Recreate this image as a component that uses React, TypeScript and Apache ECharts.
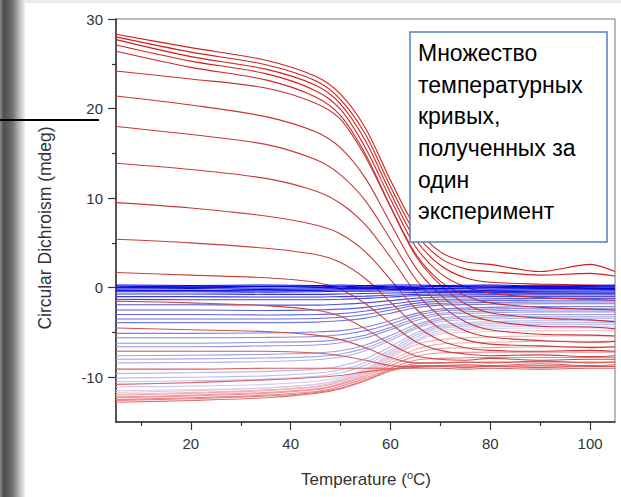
import React, { useEffect, useRef } from "react";
import * as echarts from "echarts";

// ---- data ----
const TEMPS_RED = [5, 20, 35, 45, 50, 55, 60, 65, 70, 75, 80, 90, 100, 105];
const redCurves = [
  [28.3, 26.8, 25.4, 23.6, 21.6, 17.8, 12.0, 6.8, 4.0, 2.9, 2.6, 1.8, 2.6, 1.8],
  [28.0, 26.3, 24.9, 23.1, 21.0, 17.1, 11.3, 6.1, 3.3, 2.1, 1.8, 1.4, 1.6, 1.3],
  [27.7, 25.8, 24.4, 22.6, 20.5, 16.4, 10.6, 5.4, 2.5, 1.1, 0.6, 0.4, 0.3, 0.2],
  [27.1, 25.3, 23.9, 22.0, 19.9, 15.6, 9.9, 4.6, 1.6, 0.1, -0.6, -1.1, -1.3, -1.4],
  [26.4, 24.6, 23.2, 21.3, 19.2, 14.9, 9.1, 3.8, 0.7, -0.9, -1.7, -2.2, -2.4, -2.5],
  [24.2, 23.3, 22.3, 20.6, 18.8, 14.6, 9.0, 3.6, 0.3, -1.8, -2.8, -3.4, -3.6, -3.8],
  [21.4, 20.4, 19.1, 17.4, 15.6, 12.2, 7.2, 2.3, -0.8, -2.8, -3.7, -4.3, -4.4, -4.6],
  [18.0, 17.1, 16.0, 14.3, 12.6, 9.7, 5.4, 1.0, -1.9, -3.8, -4.7, -5.2, -5.3, -5.4],
  [13.9, 13.2, 12.2, 10.8, 9.4, 7.0, 3.4, -0.5, -3.2, -4.8, -5.5, -5.9, -6.1, -6.0],
  [9.5, 8.9, 8.0, 7.0, 6.0, 4.0, 0.9, -2.3, -4.6, -5.8, -6.3, -6.5, -6.7, -6.6],
  [5.4, 5.0, 4.4, 3.7, 2.8, 1.0, -1.6, -4.2, -5.9, -6.7, -7.0, -7.1, -7.0, -7.1],
  [1.7, 1.4, 1.1, 0.6, -0.2, -1.8, -4.0, -6.0, -7.0, -7.4, -7.6, -7.5, -7.7, -7.6],
  [-1.5, -1.7, -2.0, -2.5, -3.2, -4.6, -6.3, -7.6, -8.0, -8.1, -7.9, -8.1, -8.0, -8.0],
  [-4.5, -4.7, -4.9, -5.3, -5.8, -6.7, -7.8, -8.4, -8.4, -8.3, -8.4, -8.2, -8.4, -8.3],
  [-7.1, -7.1, -7.1, -7.3, -7.6, -8.1, -8.7, -8.8, -8.7, -8.6, -8.7, -8.5, -8.7, -8.6],
  [-9.1, -9.1, -9.0, -9.0, -9.0, -9.0, -9.0, -8.9, -8.8, -8.9, -8.8, -8.9, -8.8, -8.8],
  [-10.8, -10.6, -10.3, -10.0, -9.8, -9.4, -9.1, -9.0, -9.0, -9.1, -9.0, -9.1, -9.0, -9.0],
];

const TEMPS_BLUE = [5, 20, 35, 45, 50, 55, 60, 65, 70, 80, 90, 105];
const darkBlueCurves = [
  [0.3, 0.25, 0.3, 0.25, 0.3, 0.25, 0.3, 0.3, 0.25, 0.3, 0.2, 0.3],
  [0.15, 0.1, 0.15, 0.1, 0.15, 0.1, 0.15, 0.1, 0.15, 0.1, 0.15, 0.1],
  [0.0, 0.05, -0.05, 0.0, 0.05, 0.0, 0.05, 0.0, -0.05, 0.0, 0.0, 0.05],
  [-0.15, -0.1, -0.2, -0.15, -0.1, -0.1, -0.05, -0.1, -0.1, -0.15, -0.1, -0.1],
  [-0.3, -0.3, -0.35, -0.3, -0.25, -0.25, -0.2, -0.2, -0.25, -0.3, -0.25, -0.2],
  [-0.45, -0.45, -0.5, -0.45, -0.4, -0.4, -0.35, -0.35, -0.4, -0.45, -0.4, -0.35],
];
const blueCurves = [
  [-0.7, -0.7, -0.75, -0.75, -0.7, -0.65, -0.6, -0.55, -0.5, -0.55, -0.5, -0.5],
  [-1.0, -1.0, -1.05, -1.05, -1.0, -0.95, -0.85, -0.75, -0.7, -0.7, -0.65, -0.65],
  [-1.3, -1.35, -1.35, -1.35, -1.3, -1.2, -1.05, -0.9, -0.85, -0.8, -0.8, -0.8],
  [-1.9, -1.9, -1.95, -1.95, -1.85, -1.7, -1.45, -1.2, -1.05, -1.0, -1.0, -1.0],
  [-2.5, -2.5, -2.55, -2.5, -2.4, -2.2, -1.85, -1.5, -1.3, -1.25, -1.2, -1.2],
  [-3.0, -3.0, -3.05, -3.0, -2.9, -2.6, -2.2, -1.75, -1.5, -1.45, -1.4, -1.4],
  [-3.5, -3.5, -3.5, -3.45, -3.3, -3.0, -2.5, -2.0, -1.75, -1.65, -1.6, -1.6],
  [-3.9, -3.9, -3.9, -3.85, -3.7, -3.4, -2.85, -2.25, -1.95, -1.85, -1.8, -1.8],
  [-5.1, -5.1, -5.05, -4.95, -4.8, -4.4, -3.7, -2.9, -2.4, -2.2, -2.1, -2.1],
  [-5.6, -5.6, -5.55, -5.45, -5.25, -4.8, -4.05, -3.15, -2.6, -2.4, -2.3, -2.3],
  [-6.2, -6.2, -6.1, -6.0, -5.8, -5.3, -4.45, -3.45, -2.85, -2.6, -2.5, -2.5],
  [-6.6, -6.6, -6.5, -6.4, -6.15, -5.6, -4.7, -3.7, -3.05, -2.8, -2.7, -2.7],
  [-7.6, -7.55, -7.45, -7.3, -7.05, -6.4, -5.35, -4.15, -3.4, -3.1, -3.0, -3.0],
  [-8.0, -7.95, -7.85, -7.7, -7.4, -6.75, -5.65, -4.4, -3.6, -3.3, -3.2, -3.2],
  [-8.4, -8.35, -8.25, -8.05, -7.75, -7.05, -5.9, -4.6, -3.8, -3.5, -3.4, -3.4],
  [-9.6, -9.5, -9.35, -9.1, -8.75, -7.95, -6.6, -5.1, -4.15, -3.8, -3.7, -3.7],
  [-10.1, -10.0, -9.85, -9.55, -9.2, -8.35, -6.95, -5.35, -4.35, -4.0, -3.9, -3.9],
  [-10.5, -10.4, -10.2, -9.9, -9.5, -8.65, -7.2, -5.6, -4.55, -4.2, -4.1, -4.1],
  [-11.1, -11.0, -10.8, -10.45, -10.0, -9.1, -7.6, -5.9, -4.8, -4.4, -4.3, -4.3],
  [-11.5, -11.4, -11.2, -10.8, -10.3, -9.4, -7.85, -6.1, -5.0, -4.6, -4.5, -4.5],
];
const pinkCurves = [
  [-11.7, -11.5, -11.2, -10.8, -10.2, -9.1, -7.4, -5.9, -5.2, -4.9, -4.8, -4.8],
  [-11.9, -11.7, -11.4, -11.0, -10.4, -9.3, -7.8, -6.4, -5.8, -5.5, -5.4, -5.4],
  [-12.0, -11.8, -11.5, -11.1, -10.5, -9.5, -8.1, -6.9, -6.3, -6.1, -6.0, -6.0],
  [-12.2, -12.0, -11.7, -11.3, -10.7, -9.7, -8.4, -7.3, -6.8, -6.7, -6.6, -6.6],
  [-12.3, -12.1, -11.8, -11.4, -10.8, -9.9, -8.7, -7.7, -7.3, -7.2, -7.2, -7.2],
  [-12.5, -12.3, -12.0, -11.6, -11.0, -10.1, -9.0, -8.1, -7.9, -7.8, -7.8, -7.8],
  [-12.6, -12.4, -12.1, -11.7, -11.2, -10.3, -9.2, -8.5, -8.4, -8.3, -8.3, -8.3],
  [-12.8, -12.6, -12.3, -11.8, -11.3, -10.4, -9.3, -8.7, -8.7, -8.8, -8.7, -8.8],
];

const X_LABELS = [20, 40, 60, 80, 100];
const X_MINOR = [10, 30, 50, 70, 90];
const Y_LABELS = [-10, 0, 10, 20, 30];
const Y_MINOR = [-5, 5, 15, 25];
const BOX_LINES = ["Множество", "температурных", "кривых,", "полученных за", "один", "эксперимент"];

// ---- styles ----
const RED_COLORS = [
  "#d41c1c", "#d02020", "#cc2020", "#d02424", "#cc2828",
  "#c83030", "#c83434", "#c83838", "#c83a3a", "#c83c3c", "#c84040", "#c84444",
  "#cc4a4a", "#d05050", "#d45858", "#d85c5c", "#dc6464",
];
const DARK_BLUE_COLORS = ["#0000d8", "#0808dc", "#1010e0", "#0a0ad4", "#1414d8", "#1c1cd8"];
const BLUE_COLORS = [
  "#3030dc", "#3c3cda", "#4646d8", "#5252d8", "#5c5cd8", "#6666d8", "#6e6ed8", "#7676da",
  "#8080dc", "#8888de", "#9090e0", "#9898e2", "#a0a0e4", "#a8a8e6", "#b0b0e8", "#b8b6ea",
  "#c0beec", "#c6c4ee", "#cecaf0", "#d4cff2",
];
const PINK_COLORS = ["#f4c4cc", "#f2b8bc", "#f0acb0", "#eea0a4", "#ec9498", "#ea888c", "#e87c80", "#e67074"];

const FONT = "Liberation Sans, Arial, sans-serif";

function lineSeries(temps: number[], vals: number[], color: string) {
  return {
    type: "line",
    data: temps.map((t, i) => [t, vals[i]]),
    symbol: "none",
    showSymbol: false,
    smooth: 0.3,
    silent: true,
    lineStyle: { color, width: 1.1 },
  };
}

export default function App() {
  const ref = useRef<HTMLDivElement>(null);
  useEffect(() => {
    document.body.style.margin = "0";
    const chart = echarts.init(ref.current!, null, { renderer: "svg" });
    const series: any[] = [];
    pinkCurves.forEach((c, i) => series.push(lineSeries(TEMPS_BLUE, c, PINK_COLORS[i])));
    for (let i = blueCurves.length - 1; i >= 0; i--) series.push(lineSeries(TEMPS_BLUE, blueCurves[i], BLUE_COLORS[i]));
    redCurves.forEach((c, i) => series.push(lineSeries(TEMPS_RED, c, RED_COLORS[i])));
    darkBlueCurves.forEach((c, i) => series.push(lineSeries(TEMPS_BLUE, c, DARK_BLUE_COLORS[i])));

    const lineH = 31.7;
    const boxTexts = BOX_LINES.map((t, i) => ({
      type: "text",
      x: 418,
      y: 64.3 + i * lineH,
      z: 101,
      style: { text: t, fill: "#000", font: `23px ${FONT}`, align: "left", verticalAlign: "bottom" },
    }));

    const tickStyle = { color: "#333", width: 1.2 };
    chart.setOption({
      animation: false,
      backgroundColor: "#fff",
      grid: { left: 116, right: 6, top: 19, bottom: 75, show: true, borderColor: "#777", borderWidth: 1 },
      xAxis: [
        {
          type: "value", min: 5, max: 105, position: "bottom",
          axisLine: { show: true, onZero: false, lineStyle: { color: "#333", width: 1.5 } },
          axisTick: { show: true, customValues: X_LABELS, length: 8, inside: false, lineStyle: tickStyle },
          axisLabel: { customValues: X_LABELS, margin: 14, color: "#333", fontSize: 15, fontFamily: FONT },
          splitLine: { show: false },
        },
        {
          type: "value", min: 5, max: 105, position: "bottom",
          axisLine: { show: false, onZero: false },
          axisTick: { show: true, customValues: X_MINOR, length: 4, lineStyle: tickStyle },
          axisLabel: { show: false },
          splitLine: { show: false },
        },
      ],
      yAxis: [
        {
          type: "value", min: -15, max: 30, position: "left",
          axisLine: { show: true, onZero: false, lineStyle: { color: "#333", width: 1.5 } },
          axisTick: { show: true, customValues: Y_LABELS, length: 8, lineStyle: tickStyle },
          axisLabel: { customValues: Y_LABELS, margin: 13, color: "#333", fontSize: 15, fontFamily: FONT },
          splitLine: { show: false },
        },
        {
          type: "value", min: -15, max: 30, position: "left",
          axisLine: { show: false, onZero: false },
          axisTick: { show: true, customValues: Y_MINOR, length: 4, lineStyle: tickStyle },
          axisLabel: { show: false },
          splitLine: { show: false },
        },
      ],
      series,
      graphic: [
        {
          type: "rect", z: 0, silent: true,
          shape: { x: 0, y: 0, width: 25, height: 497 },
          style: {
            fill: new echarts.graphic.LinearGradient(0, 0, 1, 0, [
              { offset: 0, color: "#8a8a8a" },
              { offset: 0.15, color: "#4e4e4e" },
              { offset: 0.5, color: "#707070" },
              { offset: 0.8, color: "#c0c0c0" },
              { offset: 1, color: "#eeeeee" },
            ]),
          },
        },
        {
          type: "rect", z: 0, silent: true,
          shape: { x: 25, y: 0, width: 596, height: 3 },
          style: { fill: "#ececec" },
        },
        {
          type: "line", z: 100, silent: true,
          shape: { x1: 0, y1: 120, x2: 99, y2: 120 },
          style: { stroke: "#000", lineWidth: 2 },
        },
        {
          type: "text", z: 100, x: 45, y: 228, rotation: Math.PI / 2,
          style: { text: "Circular Dichroism (mdeg)", fill: "#333", font: `17.5px ${FONT}`, align: "center", verticalAlign: "middle" },
        },
        {
          type: "text", z: 100, x: 366, y: 479,
          style: {
            text: "Temperature ({s|o}C)",
            fill: "#333", font: `17px ${FONT}`, align: "center", verticalAlign: "middle",
            rich: { s: { fontSize: 11, fontFamily: FONT, fill: "#333", padding: [0, 0, 9, 0] } },
          },
        },
        {
          type: "rect", z: 100,
          shape: { x: 410, y: 32, width: 197, height: 210 },
          style: { fill: "#fff", stroke: "#4f81bd", lineWidth: 1.5 },
        },
        ...boxTexts,
      ],
    });
    return () => chart.dispose();
  }, []);
  return <div ref={ref} style={{ width: 621, height: 497 }} />;
}
